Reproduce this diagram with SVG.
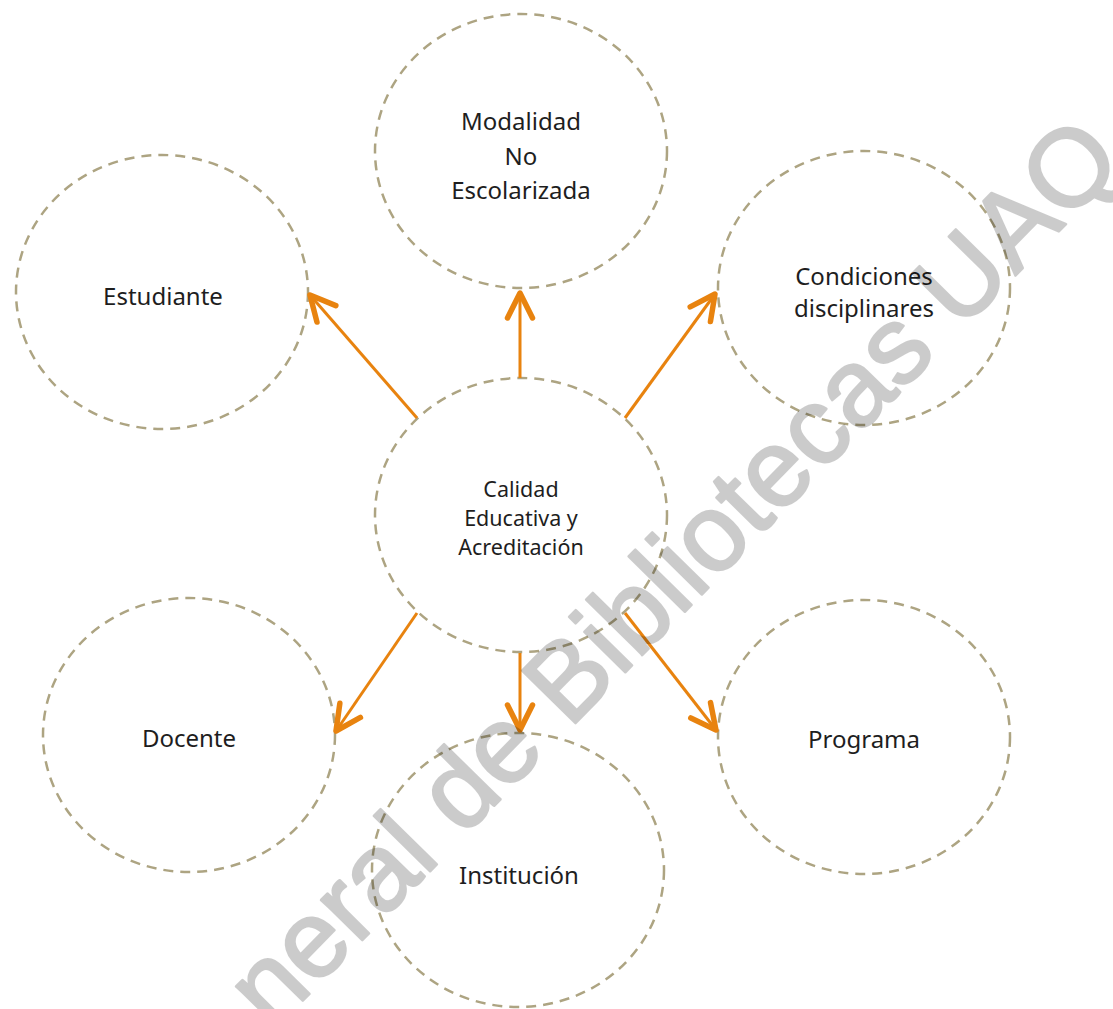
<svg xmlns="http://www.w3.org/2000/svg" width="1113" height="1009" viewBox="0 0 1113 1009">
  <style>
    .node ellipse { fill: none; stroke: #ada482; stroke-width: 2.5; stroke-dasharray: 10 7; }
    .lbl { font-family: "Noto Sans", "Liberation Sans", sans-serif; font-size: 24px; fill: #1e1e1e; text-anchor: middle; }
    .small { font-size: 21.5px; }
    .conn line { stroke: #e8830f; stroke-width: 3; marker-end: url(#ah); }
    .wm { font-family: "Liberation Sans", Arial, sans-serif; font-size: 109px; fill: #000; stroke: #000; stroke-width: 2.5; stroke-linejoin: round; }
  </style>
  <defs>
    <marker id="ah" markerUnits="userSpaceOnUse" viewBox="-32 -18 36 36" markerWidth="36" markerHeight="36" refX="0" refY="0" orient="auto" overflow="visible">
      <path d="M-25,-12.5 L0,0 L-25,12.5" fill="none" stroke="#e8830f" stroke-width="5.5" stroke-linecap="round" stroke-linejoin="round"/>
    </marker>
  </defs>
  <rect width="1113" height="1009" fill="#ffffff"/>

  <g id="modalidad" class="node">
    <ellipse cx="521" cy="151" rx="146" ry="137"/>
    <text class="lbl" x="521" y="130">Modalidad</text>
    <text class="lbl" x="521" y="164.5">No</text>
    <text class="lbl" x="521" y="199">Escolarizada</text>
  </g>
  <g id="estudiante" class="node">
    <ellipse cx="162" cy="292" rx="146" ry="137"/>
    <text class="lbl" x="163" y="305">Estudiante</text>
  </g>
  <g id="condiciones" class="node">
    <ellipse cx="864" cy="288" rx="146" ry="137"/>
    <text class="lbl" x="864" y="285">Condiciones</text>
    <text class="lbl" x="864" y="317">disciplinares</text>
  </g>
  <g id="calidad" class="node">
    <ellipse cx="521" cy="515" rx="146" ry="137"/>
    <text class="lbl small" x="521" y="497">Calidad</text>
    <text class="lbl small" x="521" y="526">Educativa y</text>
    <text class="lbl small" x="521" y="555">Acreditación</text>
  </g>
  <g id="docente" class="node">
    <ellipse cx="189" cy="735" rx="146" ry="137"/>
    <text class="lbl" x="189" y="747">Docente</text>
  </g>
  <g id="institucion" class="node">
    <ellipse cx="518" cy="870" rx="146" ry="137"/>
    <text class="lbl" x="519" y="884">Institución</text>
  </g>
  <g id="programa" class="node">
    <ellipse cx="864" cy="737" rx="146" ry="137"/>
    <text class="lbl" x="864" y="748">Programa</text>
  </g>

  <g id="connectors" class="conn">
    <line x1="417" y1="418" x2="310" y2="295"/>
    <line x1="520" y1="378" x2="520" y2="293"/>
    <line x1="625" y1="418" x2="715" y2="294"/>
    <line x1="417" y1="613" x2="336" y2="731"/>
    <line x1="520" y1="653" x2="520" y2="730"/>
    <line x1="625" y1="613" x2="716" y2="730"/>
  </g>

  <g id="watermark" opacity="0.2">
    <text class="wm" transform="translate(272,1032) rotate(-45.5)">neral de Bibliotecas UAQ</text>
  </g>
</svg>
